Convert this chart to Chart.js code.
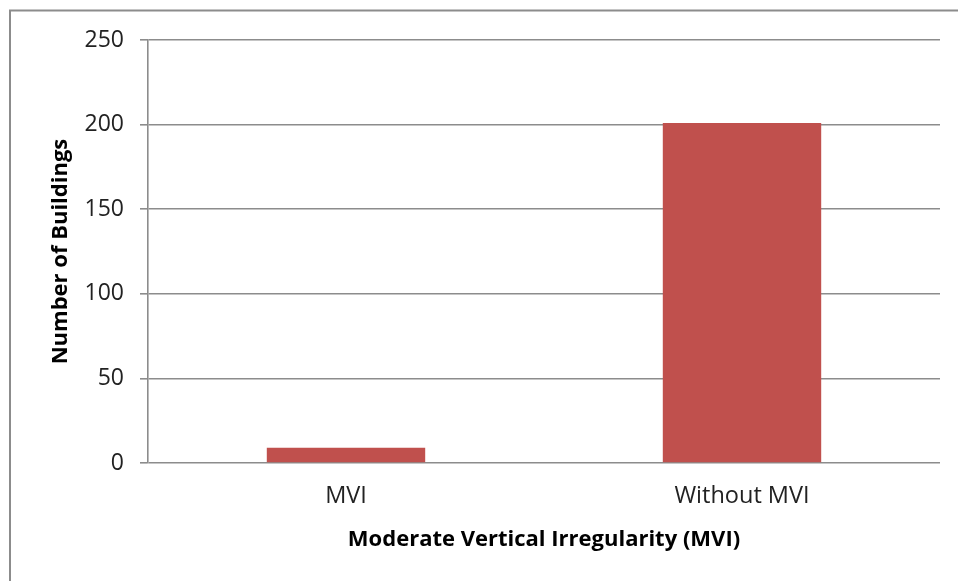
<!DOCTYPE html>
<html>
<head>
<meta charset="utf-8">
<script src="https://cdn.jsdelivr.net/npm/chart.js@4"></script>
<style>
html,body{margin:0;padding:0;background:#fff;}
#wrap{width:958px;height:581px;position:relative;}
</style>
</head>
<body>
<div id="wrap"><canvas id="c" width="958" height="581"></canvas></div>
<script>
const categories = ["MVI", "Without MVI"];
const buildingCounts = [9, 201];
const yTicks = [0, 50, 100, 150, 200, 250];
const xTitle = "Moderate Vertical Irregularity (MVI)";
const yTitle = "Number of Buildings";

const FONT = "'Open Sans', 'Liberation Sans', sans-serif";
const GRID = "#8c8c8c";

const frame = {
  id: 'frame',
  beforeDraw(chart) {
    const ctx = chart.ctx;
    ctx.save();
    ctx.fillStyle = '#fff';
    ctx.fillRect(0, 0, chart.width, chart.height);
    ctx.strokeStyle = '#8c8c8c';
    ctx.lineWidth = 2;
    ctx.strokeRect(10, 10.5, 1000, 1000);
    ctx.restore();
  }
};

new Chart(document.getElementById('c'), {
  type: 'bar',
  data: {
    labels: categories,
    datasets: [{
      data: buildingCounts,
      backgroundColor: '#C0504D',
      borderWidth: 0,
      categoryPercentage: 1.0,
      barPercentage: 0.4
    }]
  },
  options: {
    responsive: false,
    animation: false,
    layout: { padding: { top: 40, right: 18, left: 0, bottom: 0 } },
    plugins: { legend: { display: false }, tooltip: { enabled: false } },
    scales: {
      x: {
        grid: { display: false, drawTicks: false },
        border: { display: false },
        ticks: { color: '#222', font: { family: FONT, size: 23.5 }, padding: 19 },
        title: { display: true, text: xTitle, color: '#000', font: { family: FONT, size: 22, weight: 'bold' }, padding: { top: 0, bottom: 28 } },
        afterFit(s) { s.height = 118; }
      },
      y: {
        min: 0, max: 250,
        afterBuildTicks(s) { s.ticks = yTicks.map(v => ({ value: v })); },
        grid: { color: GRID, lineWidth: 1.6, tickLength: 8, tickColor: GRID },
        border: { display: true, color: GRID, width: 1.6 },
        ticks: { color: '#222', font: { family: FONT, size: 23 }, padding: 16 },
        title: { display: true, text: yTitle, color: '#000', font: { family: FONT, size: 22, weight: 'bold' }, padding: { top: 48, bottom: 0 } },
        afterFit(s) { s.width = 148; }
      }
    }
  },
  plugins: [frame]
});
</script>
</body>
</html>
